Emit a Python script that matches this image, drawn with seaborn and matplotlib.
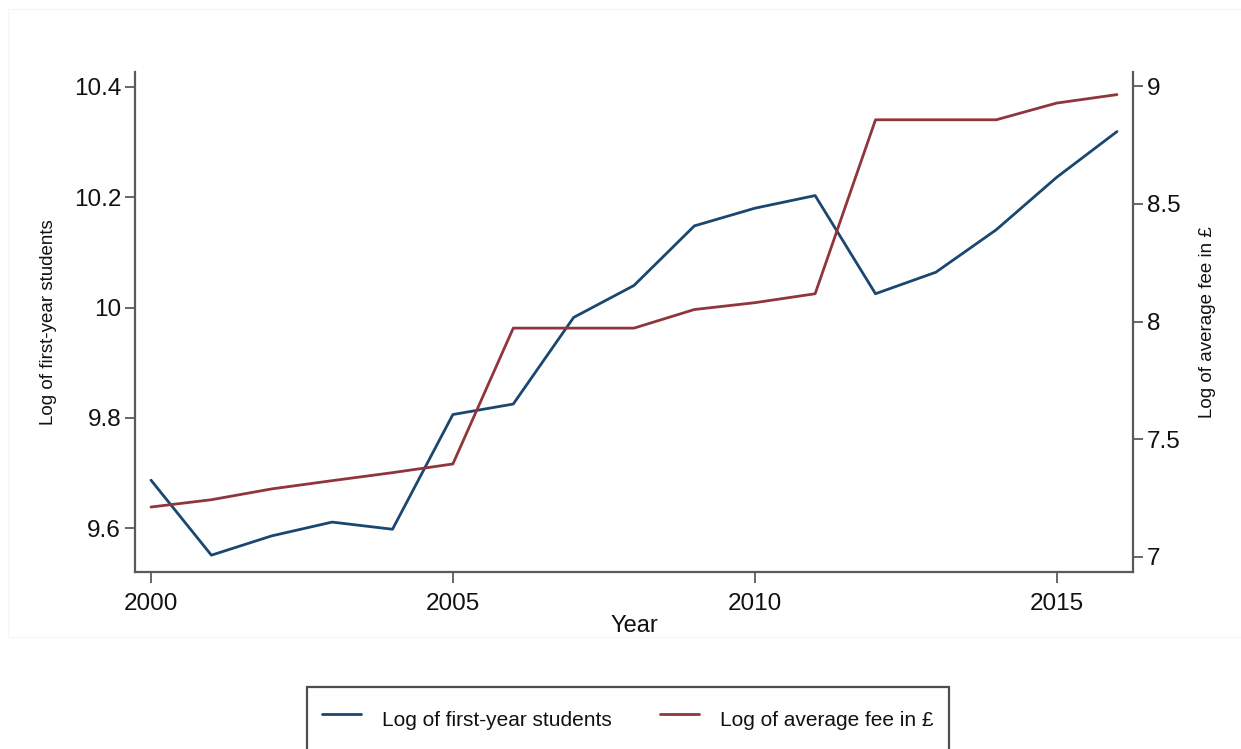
import numpy as np
import pandas as pd
import matplotlib
matplotlib.use("Agg")
import matplotlib.pyplot as plt
from matplotlib.lines import Line2D
from matplotlib.patches import Rectangle
import seaborn as sns

# Academic years and the two logged series
years = list(range(2000, 2017))
log_students = [9.687, 9.551, 9.586, 9.611, 9.598, 9.806, 9.825, 9.982, 10.040,
                10.148, 10.180, 10.203, 10.025, 10.064, 10.141, 10.236, 10.319]
log_fee = [7.212, 7.243, 7.289, 7.324, 7.358, 7.395, 7.972, 7.972, 7.972,
           8.051, 8.080, 8.118, 8.857, 8.857, 8.857, 8.928, 8.964]

left_ticks = [9.6, 9.8, 10.0, 10.2, 10.4]
left_labels = ["9.6", "9.8", "10", "10.2", "10.4"]
right_ticks = [7, 7.5, 8, 8.5, 9]
right_labels = ["7", "7.5", "8", "8.5", "9"]
x_ticks = [2000, 2005, 2010, 2015]

label_students = "Log of first-year students"
label_fee = "Log of average fee in £"

df = pd.DataFrame({"year": years, "students": log_students, "fee": log_fee})

sns.set_theme(style="white")
plt.rcParams["font.family"] = ["Liberation Sans", "DejaVu Sans"]

navy = "#1a476f"
maroon = "#90353b"
spine_col = "#5a5a5a"

fig = plt.figure(figsize=(12.41, 7.49), dpi=100)
fig.patch.set_facecolor("white")
ax = fig.add_axes([135 / 1241, 1 - 572 / 749, (1133 - 135) / 1241, (572 - 72) / 749])
ax2 = ax.twinx()

sns.lineplot(data=df, x="year", y="students", ax=ax, color=navy, linewidth=2.0,
             legend=False)
sns.lineplot(data=df, x="year", y="fee", ax=ax2, color=maroon, linewidth=2.0,
             legend=False)

ax.set_xlim(1999.735, 2016.265)
ax.set_ylim(9.5205, 10.427)
ax2.set_ylim(6.936, 9.060)

ax.set_xticks(x_ticks)
ax.set_xticklabels([str(t) for t in x_ticks])
ax.set_yticks(left_ticks)
ax.set_yticklabels(left_labels)
ax2.set_yticks(right_ticks)
ax2.set_yticklabels(right_labels)

for a in (ax, ax2):
    for side, sp in a.spines.items():
        sp.set_color(spine_col)
        sp.set_linewidth(1.6)
    a.spines["top"].set_visible(False)
    a.tick_params(axis="both", direction="out", length=7, width=1.3,
                  color=spine_col, labelsize=17.5, labelcolor="#111111", pad=3)
    a.grid(False)
ax.tick_params(bottom=True, left=True, right=False, top=False)
ax.tick_params(axis="x", length=8, pad=7)
ax2.tick_params(right=True, left=False, bottom=False, top=False)
ax.spines["right"].set_visible(False)
ax2.spines["left"].set_visible(False)
ax2.spines["bottom"].set_visible(False)

ax.set_xlabel("Year", fontsize=17, color="#111111", labelpad=0)
ax.set_ylabel(label_students, fontsize=13.5, color="#111111", labelpad=12)
ax2.set_ylabel(label_fee, fontsize=13.5, color="#111111", labelpad=13)

# faint outline of the graph region
fig.add_artist(Rectangle((8 / 1241, 1 - 637 / 749), 1.0, (637 - 9) / 749,
                         transform=fig.transFigure, fill=False,
                         edgecolor="#f6f6f6", linewidth=1.0))

handles = [Line2D([0], [0], color=navy, lw=2.0),
           Line2D([0], [0], color=maroon, lw=2.0)]
leg = fig.legend(handles, [label_students, label_fee], loc="upper center",
                 bbox_to_anchor=(628 / 1241, 1 - 687 / 749), ncol=2,
                 fontsize=15, frameon=True, fancybox=False, borderpad=0.7,
                 borderaxespad=0.0,
                 handlelength=1.85, handleheight=2.2, handletextpad=1.05,
                 columnspacing=2.3)
leg.get_frame().set_edgecolor("#222222")
leg.get_frame().set_linewidth(1.6)
for t in leg.get_texts():
    t.set_color("#111111")

fig.savefig("out.png", dpi=100)
